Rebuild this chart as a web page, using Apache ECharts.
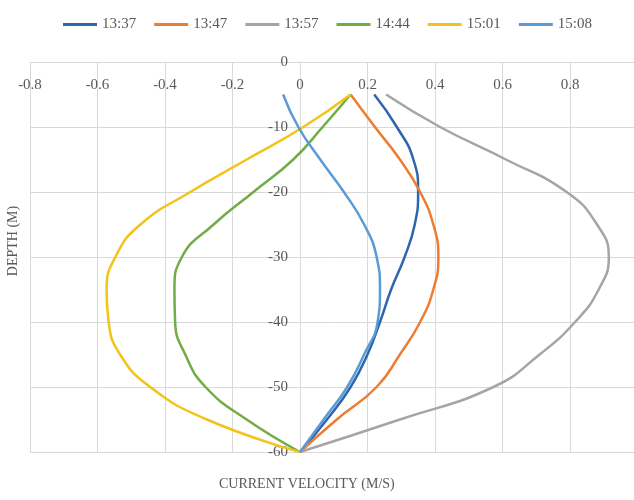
<!DOCTYPE html>
<html>
<head>
<meta charset="utf-8">
<script src="https://cdn.jsdelivr.net/npm/echarts@6/dist/echarts.min.js"></script>
<style>
  html, body { margin: 0; padding: 0; background: #fff; }
  #chart { width: 634px; height: 500px; }
</style>
</head>
<body>
<div id="chart"></div>
<script>
// depth (m), same for every profile
const depths = [-5, -10, -15, -20, -25, -30, -35, -40, -45, -50, -55, -60];

// current velocity (m/s) read at each depth
const v1337 = [0.22, 0.287, 0.336, 0.35, 0.34, 0.31, 0.27, 0.237, 0.2, 0.15, 0.08, 0];
const v1347 = [0.15, 0.222, 0.296, 0.356, 0.395, 0.41, 0.395, 0.356, 0.296, 0.227, 0.109, 0];
const v1357 = [0.255, 0.415, 0.61, 0.79, 0.88, 0.915, 0.885, 0.815, 0.71, 0.573, 0.296, 0];
const v1444 = [0.15, 0.067, -0.02, -0.138, -0.256, -0.35, -0.372, -0.37, -0.34, -0.28, -0.158, 0];
const v1501 = [0.15, 0.01, -0.158, -0.325, -0.473, -0.547, -0.573, -0.567, -0.533, -0.444, -0.276, 0];
const v1508 = [-0.05, -0.005, 0.06, 0.13, 0.19, 0.227, 0.237, 0.23, 0.19, 0.14, 0.07, 0];

const names = ['13:37', '13:47', '13:57', '14:44', '15:01', '15:08'];
const profiles = [v1337, v1347, v1357, v1444, v1501, v1508];
const colors = ['#2F65AD', '#ED7D31', '#A5A5A5', '#70AD47', '#F2C318', '#5B9BD5'];

const font = '"Liberation Serif", "DejaVu Serif", serif';
const textColor = '#595959';
const gridColor = '#D9D9D9';

const chart = echarts.init(document.getElementById('chart'));

chart.setOption({
  backgroundColor: '#fff',
  animation: false,
  color: colors,
  legend: {
    top: 12,
    left: 58,
    icon: 'rect',
    itemWidth: 34,
    itemHeight: 3,
    itemGap: 18,
    textStyle: { fontFamily: font, fontSize: 15, color: textColor }
  },
  grid: {
    left: 30,
    top: 62,
    width: 607.5,
    height: 390,
    outerBoundsMode: 'none',
    containLabel: false
  },
  title: {
    text: 'CURRENT VELOCITY (M/S)',
    left: 214,
    top: 472,
    textStyle: { fontFamily: font, fontSize: 14, fontWeight: 'normal', color: textColor }
  },
  graphic: [{
    type: 'text',
    x: 13,
    y: 241,
    rotation: Math.PI / 2,
    style: {
      text: 'DEPTH (M)',
      font: '14px ' + font,
      fill: textColor,
      align: 'center',
      verticalAlign: 'middle'
    }
  }],
  xAxis: {
    type: 'value',
    position: 'top',
    min: -0.8,
    max: 1,
    interval: 0.2,
    axisLine: { onZero: false, lineStyle: { color: gridColor } },
    axisTick: { show: false },
    axisLabel: {
      inside: true,
      margin: 16,
      fontFamily: font,
      fontSize: 15,
      color: textColor,
      formatter: v => String(Math.round(v * 10) / 10)
    },
    splitLine: { lineStyle: { color: gridColor } }
  },
  yAxis: {
    type: 'value',
    position: 'left',
    offset: -270, // sit on x = 0
    min: -60,
    max: 0,
    interval: 10,
    axisLine: { onZero: false, lineStyle: { color: gridColor } },
    axisTick: { show: false },
    axisLabel: { margin: 12, fontFamily: font, fontSize: 15, color: textColor },
    splitLine: { lineStyle: { color: gridColor } }
  },
  series: names.map((n, i) => ({
    name: n,
    type: 'line',
    smooth: 0.5,
    symbol: 'none',
    lineStyle: { width: 2.5, color: colors[i] },
    itemStyle: { color: colors[i] },
    data: profiles[i].map((v, k) => [v, depths[k]])
  }))
});
</script>
</body>
</html>
